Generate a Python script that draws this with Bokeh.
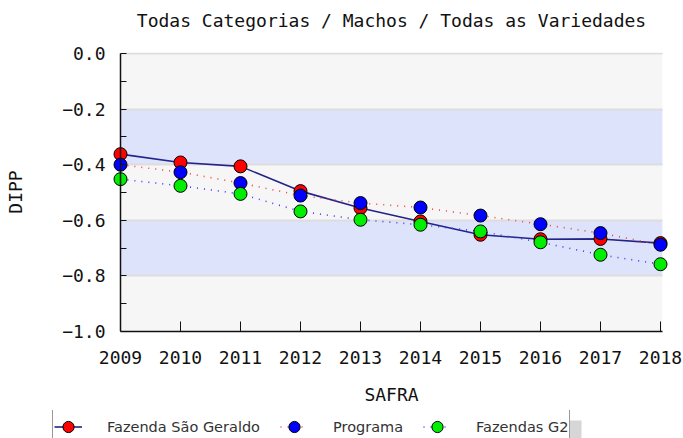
from bokeh.plotting import figure
from bokeh.layouts import column
from bokeh.models import (Range1d, FixedTicker, Legend, LegendItem, BoxAnnotation, Grid, Label,
                          LinearAxis, CustomJSTickFormatter, Plot)
from bokeh.embed import file_html
from bokeh.resources import INLINE

# ---- data ----
years = [2009, 2010, 2011, 2012, 2013, 2014, 2015, 2016, 2017, 2018]
sao_geraldo = [-0.362, -0.392, -0.406, -0.495, -0.556, -0.604, -0.652, -0.668, -0.667, -0.682]
programa = [-0.400, -0.427, -0.466, -0.511, -0.538, -0.554, -0.583, -0.614, -0.646, -0.688]
fazendas_g2 = [-0.452, -0.476, -0.505, -0.568, -0.598, -0.616, -0.640, -0.679, -0.724, -0.758]
y_major = [-1.0, -0.8, -0.6, -0.4, -0.2, 0.0]
y_minor = [-0.9, -0.7, -0.5, -0.3, -0.1]
y_tick_labels = ["\u22121.0", "\u22120.8", "\u22120.6", "\u22120.4", "\u22120.2", "0.0"]
series_names = ["Fazenda São Geraldo", "Programa", "Fazendas G2"]
title_text = "Todas Categorias / Machos / Todas as Variedades"
x_label = "SAFRA"
y_label = "DIPP"

MONO = "DejaVu Sans Mono"
AREA_RIGHT = years[-1] + 0.03   # right edge of the shaded plot area
W = 683
HAS_FA = "frame_align" in Plot.properties()

def strip(height):
    kw = dict(width=W, height=height, output_backend="svg", toolbar_location=None,
              y_range=Range1d(0, 1), x_axis_location=None, y_axis_location=None)
    if HAS_FA:
        kw.update(x_range=Range1d(0, W), min_border=0)
    else:
        kw.update(x_range=Range1d(110, 672), min_border_left=110, min_border_right=11,
                  min_border_top=0, min_border_bottom=0)
    f = figure(**kw)
    if HAS_FA:
        f.frame_align = False
    f.outline_line_color = None
    f.grid.visible = False
    return f

# ---------- title strip ----------
tfig = strip(40)
tfig.add_layout(Label(x=391, y=0.5, text=title_text, text_align="center",
                      text_baseline="middle", text_font=MONO, text_font_size="18px",
                      text_color="#111111"))

# ---------- main chart ----------
p = figure(width=W, height=370, output_backend="svg", toolbar_location=None,
           x_range=Range1d(years[0] - 10 / 60, years[-1] + 12 / 60),
           y_range=Range1d(-1.0, 1 / 279),
           min_border_left=110, min_border_right=11, min_border_top=12,
           min_border_bottom=79)
if HAS_FA:
    p.frame_align = False
p.background_fill_color = "white"
p.border_fill_color = "white"
p.outline_line_color = None

bg = BoxAnnotation(left=years[0], right=AREA_RIGHT, bottom=y_major[0], top=y_major[-1],
                   fill_color="#F6F6F6", fill_alpha=1.0, line_color=None, level="underlay")
bands = [BoxAnnotation(left=years[0], right=AREA_RIGHT, bottom=y_major[i], top=y_major[i + 1],
                       fill_color="#DCE3FA", fill_alpha=1.0, line_color=None, level="underlay")
         for i in (1, 3)]

p.xgrid.visible = False
yg = p.ygrid[0]
yg.grid_line_color = "#DDDDDD"
yg.grid_line_width = 2
if "cross_bounds" in Grid.properties():
    yg.cross_bounds = (years[0], AREA_RIGHT)
p.center = [bg] + bands + list(p.center)

y_ticker = FixedTicker(ticks=y_major, minor_ticks=y_minor)

xa = p.xaxis[0]
ya = p.yaxis[0]
for ax in (xa, ya):
    ax.axis_line_color = "#111111"
    ax.axis_line_width = 1.5
    ax.major_tick_line_color = "#111111"
    ax.minor_tick_line_color = "#111111"
    ax.major_tick_out = 0
    ax.minor_tick_out = 0
    ax.major_label_text_font = MONO
    ax.major_label_text_font_size = "18px"
    ax.major_label_text_color = "#111111"
    ax.axis_label_text_font = MONO
    ax.axis_label_text_font_size = "18px"
    ax.axis_label_text_font_style = "normal"
    ax.axis_label_text_color = "#111111"

xa.ticker = FixedTicker(ticks=years)
xa.bounds = (years[0], AREA_RIGHT)
xa.major_tick_in = 10
xa.minor_tick_in = 0
xa.major_label_standoff = 19
xa.axis_label = x_label
xa.axis_label_standoff = 17

# left axis: labels only
ya.ticker = y_ticker
ya.major_label_overrides = {t: s for t, s in zip(y_major, y_tick_labels)}
ya.axis_line_color = None
ya.major_tick_line_color = None
ya.minor_tick_line_color = None
ya.major_tick_in = 0
ya.minor_tick_in = 0
ya.major_label_standoff = 5
ya.axis_label = y_label
ya.axis_label_standoff = 33

# axis line + inward ticks drawn at the first year
rule = LinearAxis(ticker=y_ticker, fixed_location=years[0], bounds=(y_major[0], y_major[-1]),
                  formatter=CustomJSTickFormatter(code="return ''"),
                  axis_line_color="#111111", axis_line_width=1.5,
                  major_tick_line_color="#111111", minor_tick_line_color="#111111",
                  major_tick_in=0, major_tick_out=6, minor_tick_in=0, minor_tick_out=6,
                  major_label_standoff=0)
p.add_layout(rule, "right")

series = [
    (sao_geraldo, "#232388", "solid", "#FF0000"),
    (programa, "#FF3A3A", "1 6", "#0000FF"),
    (fazendas_g2, "#3A3AFF", "1 6", "#00EE00"),
]

for vals, lc, dash, _ in series:
    p.line(years, vals, line_color=lc, line_width=1.6, line_dash=dash)
for vals, _, _, fc in series:
    p.scatter(years, vals, size=13, fill_color=fc, line_color="#000000", line_width=1)

# ---------- legend strip (proxy renderers lie outside its view) ----------
lfig = strip(28)
sx0 = 0 if HAS_FA else 110
shadow = BoxAnnotation(left=555 - sx0 + (0 if HAS_FA else 110), right=581, bottom=0, top=0.64,
                       fill_color="#D6D6D6", fill_alpha=1.0, line_color=None, level="underlay")
lfig.add_layout(shadow)
items = []
for name, (vals, lc, dash, fc) in zip(series_names, series):
    lr = lfig.line(years, vals, line_color=lc, line_width=1.6, line_dash=dash)
    mr = lfig.scatter(years, vals, fill_color=fc, line_color="#000000", line_width=1)
    items.append(LegendItem(label=name, renderers=[lr, mr]))
legend = Legend(items=items, orientation="horizontal",
                location=(52 if HAS_FA else -58, -6),
                glyph_width=28, glyph_height=31, label_standoff=25, spacing=20,
                padding=1, margin=0,
                label_text_font="DejaVu Sans", label_text_font_size="14.5px",
                label_text_color="#333333",
                border_line_color="#333333", border_line_width=1.5,
                background_fill_color="white", background_fill_alpha=1.0)
lfig.add_layout(legend, "center")

layout = column(tfig, p, lfig, spacing=0)
open("out.html", "w").write(file_html(layout, INLINE))
